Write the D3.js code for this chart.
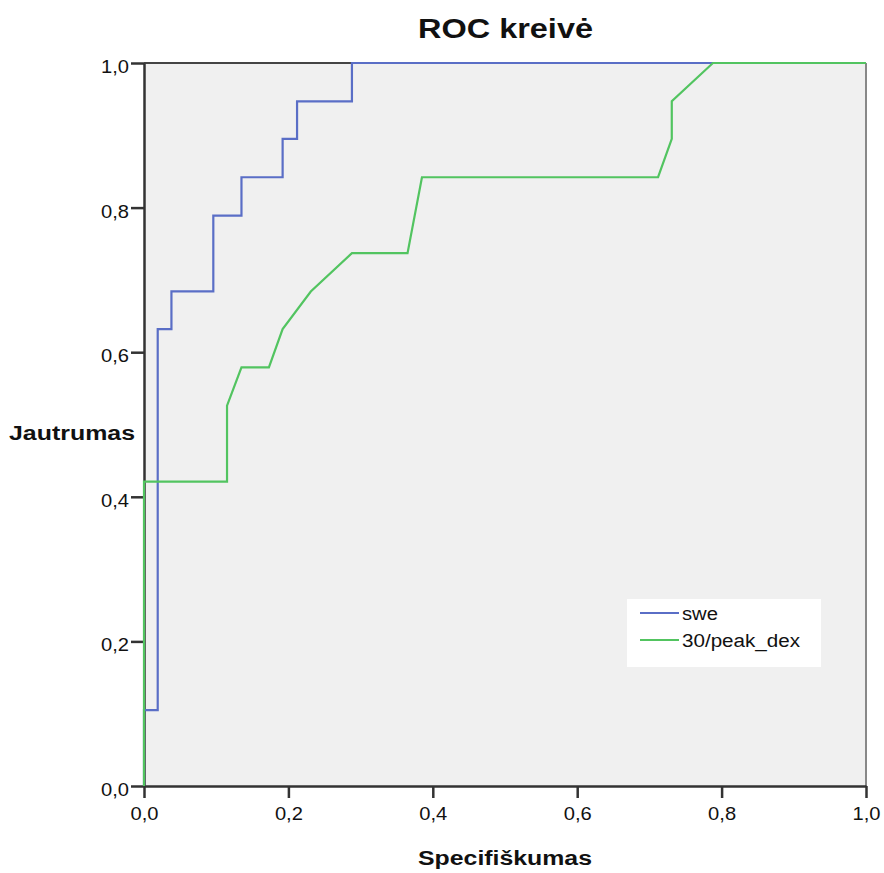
<!DOCTYPE html>
<html>
<head>
<meta charset="utf-8">
<script src="https://cdn.jsdelivr.net/npm/d3@7"></script>
<style>
  body { margin: 0; background: #fff; }
  text { font-family: "Liberation Sans", Arial, sans-serif; fill: #111; }
  .axis path, .axis line { stroke: #333; }
  .axis-title { font-weight: bold; }
</style>
</head>
<body>
<svg id="chart"></svg>
<script>
// ROC curve points (1 - specificity on x, sensitivity on y)
const sweFpr = [0, 0, 0.019, 0.019, 0.038, 0.038, 0.096, 0.096, 0.135, 0.135, 0.192, 0.192, 0.212, 0.212, 0.288, 0.288, 1];
const sweTpr = [0, 0.105, 0.105, 0.632, 0.632, 0.684, 0.684, 0.789, 0.789, 0.842, 0.842, 0.895, 0.895, 0.947, 0.947, 1, 1];

const peakFpr = [0, 0, 0.115, 0.115, 0.135, 0.173, 0.192, 0.231, 0.288, 0.365, 0.385, 0.712, 0.731, 0.731, 0.788, 1];
const peakTpr = [0, 0.421, 0.421, 0.526, 0.579, 0.579, 0.632, 0.684, 0.737, 0.737, 0.842, 0.842, 0.895, 0.947, 1, 1];

const seriesNames = ['swe', '30/peak_dex'];
const seriesColors = ['#5a6ec6', '#52c460'];
const tickValues = [0, 0.2, 0.4, 0.6, 0.8, 1.0];

class RocChart {

  constructor(_config, _data) {
    this.config = {
      parentElement: _config.parentElement,
      containerWidth: _config.containerWidth || 884,
      containerHeight: _config.containerHeight || 873,
      margin: _config.margin || { top: 63, right: 18, bottom: 87, left: 144 }
    }
    this.data = _data;
    this.initVis();
  }

  initVis() {
    let vis = this;

    vis.width = vis.config.containerWidth - vis.config.margin.left - vis.config.margin.right;
    vis.height = vis.config.containerHeight - vis.config.margin.top - vis.config.margin.bottom;

    vis.xScale = d3.scaleLinear().domain([0, 1]).range([0, vis.width]);
    vis.yScale = d3.scaleLinear().domain([0, 1]).range([vis.height, 0]);

    // comma as decimal mark
    const locale = d3.formatLocale({ decimal: ',', thousands: ' ', grouping: [3], currency: ['', ''] });
    const fmt = locale.format('.1f');

    vis.xAxis = d3.axisBottom(vis.xScale).tickValues(tickValues).tickFormat(fmt)
      .tickSize(12).tickSizeOuter(0).tickPadding(9);
    vis.yAxis = d3.axisLeft(vis.yScale).tickValues(tickValues).tickFormat(fmt)
      .tickSize(13).tickSizeOuter(0).tickPadding(2);

    vis.svg = d3.select(vis.config.parentElement)
      .attr('width', vis.config.containerWidth)
      .attr('height', vis.config.containerHeight);

    vis.chart = vis.svg.append('g')
      .attr('transform', `translate(${vis.config.margin.left},${vis.config.margin.top})`);

    // plot background
    vis.chart.append('rect')
      .attr('width', vis.width)
      .attr('height', vis.height)
      .attr('fill', '#f0f0f0');

    // top and right frame
    vis.chart.append('line')
      .attr('x1', 0).attr('x2', vis.width).attr('y1', 0).attr('y2', 0)
      .attr('stroke', '#444').attr('stroke-width', 2);
    vis.chart.append('line')
      .attr('x1', vis.width).attr('x2', vis.width).attr('y1', 0).attr('y2', vis.height)
      .attr('stroke', '#888').attr('stroke-width', 2);

    vis.xAxisG = vis.chart.append('g')
      .attr('class', 'axis x-axis')
      .attr('transform', `translate(0,${vis.height})`);
    vis.yAxisG = vis.chart.append('g')
      .attr('class', 'axis y-axis');

    vis.linesG = vis.chart.append('g');

    // titles
    vis.svg.append('text')
      .attr('class', 'axis-title')
      .attr('x', 418).attr('y', 38)
      .attr('font-size', 27)
      .attr('textLength', 175).attr('lengthAdjust', 'spacingAndGlyphs')
      .text('ROC kreivė');

    vis.svg.append('text')
      .attr('class', 'axis-title')
      .attr('x', 9).attr('y', 440)
      .attr('font-size', 20)
      .attr('textLength', 126).attr('lengthAdjust', 'spacingAndGlyphs')
      .text('Jautrumas');

    vis.svg.append('text')
      .attr('class', 'axis-title')
      .attr('x', 418).attr('y', 865)
      .attr('font-size', 20)
      .attr('textLength', 174).attr('lengthAdjust', 'spacingAndGlyphs')
      .text('Specifiškumas');

    // legend
    vis.legend = vis.svg.append('g').attr('transform', 'translate(627,599)');
    vis.legend.append('rect')
      .attr('width', 194).attr('height', 68)
      .attr('fill', '#fff');
  }

  updateVis() {
    let vis = this;
    vis.line = d3.line()
      .x(d => vis.xScale(d[0]))
      .y(d => vis.yScale(d[1]));
    vis.renderVis();
  }

  renderVis() {
    let vis = this;

    vis.xAxisG.call(vis.xAxis);
    vis.yAxisG.call(vis.yAxis);
    vis.chart.selectAll('.axis path').attr('stroke-width', 2.5);
    vis.chart.selectAll('.axis .tick line').attr('stroke-width', 2.5);
    vis.chart.selectAll('.axis text')
      .attr('font-size', 19).attr('fill', '#222')
      .attr('textLength', 28).attr('lengthAdjust', 'spacingAndGlyphs');
    vis.yAxisG.selectAll('text').attr('dy', '0.5em');

    vis.linesG.selectAll('.roc')
      .data(vis.data)
      .join('path')
      .attr('class', 'roc')
      .attr('fill', 'none')
      .attr('stroke', d => d.color)
      .attr('stroke-width', 2.2)
      .attr('d', d => vis.line(d.points));

    const items = vis.legend.selectAll('.item')
      .data(vis.data)
      .join('g')
      .attr('class', 'item')
      .attr('transform', (d, i) => `translate(13,${14 + i * 27})`);
    items.append('line')
      .attr('x1', 0).attr('x2', 39)
      .attr('stroke', d => d.color)
      .attr('stroke-width', 2);
    items.append('text')
      .attr('x', 42).attr('y', 7)
      .attr('font-size', 18)
      .attr('textLength', (d, i) => i === 0 ? 36 : 118)
      .attr('lengthAdjust', 'spacingAndGlyphs')
      .attr('fill', '#222')
      .text(d => d.name);
  }
}

const data = [
  { name: seriesNames[0], color: seriesColors[0], points: sweFpr.map((x, i) => [x, sweTpr[i]]) },
  { name: seriesNames[1], color: seriesColors[1], points: peakFpr.map((x, i) => [x, peakTpr[i]]) }
];

const chart = new RocChart({ parentElement: '#chart' }, data);
chart.updateVis();
</script>
</body>
</html>
